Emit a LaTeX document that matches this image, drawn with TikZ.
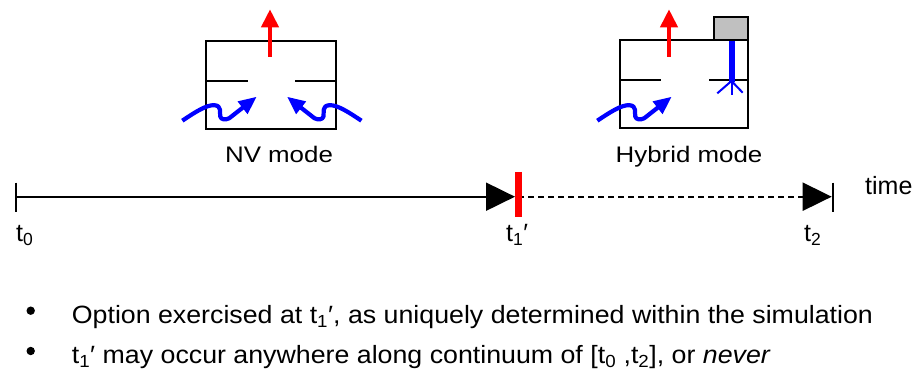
\documentclass[tikz,border=0pt]{standalone}
\usepackage{fontspec}
\setmainfont{Liberation Sans}
\newfontfamily\modefont{Liberation Sans}[FakeStretch=1.15]
\newfontfamily\notefont{Liberation Sans}[FakeStretch=1.07]
\usetikzlibrary{arrows.meta}

\newcommand{\lowidx}[1]{\textsubscript{#1}}

\begin{document}
\begin{tikzpicture}[x=1pt,y=-1pt,
  chamber/.style={draw=black, line width=2.2pt},
  baffle/.style={black, line width=2.2pt},
  vent/.style={red, line width=4pt, -{Triangle[length=18pt,width=17pt]}},
  inflow/.style={blue, line width=4.2pt, line join=round, -{Triangle[length=18pt,width=15pt]}},
  spray/.style={blue, line width=2pt},
  axis/.style={black, line width=2pt},
  axistip/.style={-{Triangle[length=29pt,width=28pt]}},
  tickmark/.style={black, line width=2pt},
  modelabel/.style={anchor=base, inner sep=0pt, font=\modefont\fontsize{22.5}{27}\selectfont},
  timelabel/.style={anchor=base west, inner sep=0pt, font=\fontsize{25}{30}\selectfont},
  notelabel/.style={anchor=base west, inner sep=0pt, font=\notefont\fontsize{25}{30}\selectfont},
  squiggle/.pic={
    \draw[inflow] (0,0) .. controls (12,-8) and (24,-16) .. (32,-15.5)
      .. controls (40,-15) and (37,-8) .. (38,-4)
      .. controls (39,-1) and (43,-0.5) .. (47,-2.5)
      -- (74.4,-24);
  }
]
\useasboundingbox (0,0) rectangle (919,371);

% --- natural ventilation chamber ---
\draw[chamber] (206,40.7) rectangle (336,128.7);
\draw[baffle] (206,80.7) -- (247.7,80.7);
\draw[baffle] (295.3,80.7) -- (336,80.7);
\draw[vent] (270,57) -- (270,9.3);
\pic at (182.3,120.7) {squiggle};
\pic[xscale=-1] at (361.4,120.7) {squiggle};
\node[modelabel] (nvlabel) at (279,163) {NV mode};

% --- hybrid chamber with mechanical unit ---
\draw[chamber] (620,40) rectangle (748,128);
\draw[chamber, fill={rgb,255:red,192;green,192;blue,192}] (714.3,17.3) rectangle (748,40);
\draw[baffle] (620,80) -- (661,80);
\draw[baffle] (709,80) -- (748,80);
\draw[vent] (669,57) -- (669,9.3);
\pic at (597.3,120.7) {squiggle};
\draw[blue, line width=6pt] (731.5,41) -- (731.5,82);
\draw[spray] (731.5,81) -- (717.3,93.3);
\draw[spray] (731.5,81) -- (731.5,95);
\draw[spray] (731.5,81) -- (742.7,92.7);
\node[modelabel] (hylabel) at (689,163) {Hybrid mode};

% --- time axis ---
\coordinate (t0) at (16,196.7);
\coordinate (t1) at (518,196.7);
\coordinate (t2) at (832.7,196.7);
\draw[axis, axistip] (t0) -- ([xshift=-3pt]t1);
\draw[axis, axistip, dash pattern=on 6pt off 4pt] (t1) -- ([xshift=-1pt]t2);
\draw[tickmark] (t0) ++(0,-14) -- ++(0,29.6);
\draw[tickmark] (t2) ++(0,-14) -- ++(0,29.6);
\draw[red, line width=7pt] (t1) ++(0,-24.7) -- ++(0,45.3);

\node[timelabel] (lt0) at (16,242) {t\lowidx{0}};
\node[timelabel] (lt1) at (506,242) {t\lowidx{1}′};
\node[timelabel] (lt2) at (804,242) {t\lowidx{2}};
\node[timelabel] (ltime) at (865,195) {time};

% --- notes ---
\fill (30.7,310.7) circle (4.2pt);
\fill (30.7,351) circle (4.2pt);
\node[notelabel] (note1) at (71.7,323.3) {Option exercised at t\lowidx{1}′, as uniquely determined within the simulation};
\node[notelabel] (note2) at (71.7,364) {t\lowidx{1}′ may occur anywhere along continuum of [t\lowidx{0} ,t\lowidx{2}], or \textit{never}};
\end{tikzpicture}
\end{document}
